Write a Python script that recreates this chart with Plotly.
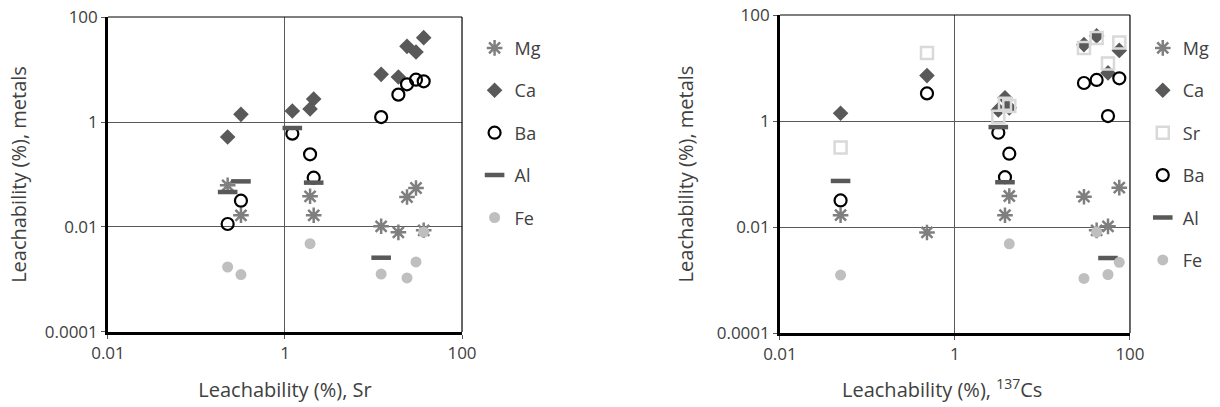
import plotly.graph_objects as go

# Sample data (leachability, %)
sr = [0.225, 0.318, 1.21, 1.92, 2.11, 12.2, 19.1, 23.9, 30.2, 36.9]
cs = [None, 0.0493, 3.13, 4.18, 3.73, 56.1, 0.479, 29.8, 75.5, 41.6]
mg = [0.0622, 0.0167, None, 0.0384, 0.0167, 0.0103, 0.0079, 0.0373, 0.0553, 0.00865]
ca = [0.518, 1.40, 1.62, 1.77, 2.74, 8.09, 7.2, 27.6, 21.5, 40.4]
ba = [0.0114, 0.0317, 0.60, 0.242, 0.087, 1.24, 3.32, 5.22, 6.4, 5.95]
al = [0.0464, 0.074, 0.768, None, 0.070, 0.0026, None, None, None, None]
fe = [0.00173, 0.00124, None, 0.00482, None, 0.00127, None, 0.00107, 0.00216, 0.00803]

x_ticks = [0.01, 1, 100]
y_ticks = [0.0001, 0.01, 1, 100]
x_tick_text = ["0.01", "1", "100"]
y_tick_text = ["0.0001", "0.01", "1", "100"]

FONT = "Open Sans"
TXT = "#404040"
C_MG = "#7f7f7f"
C_CA = "#595959"
C_BA = "#000000"
C_AL = "#595959"
C_FE = "#bfbfbf"
C_SR = "#d9d9d9"

st = {
    "Mg": dict(symbol="asterisk-open", size=13, color=C_MG, line=dict(color=C_MG, width=2.5)),
    "Ca": dict(symbol="diamond", size=12, color=C_CA, line=dict(width=0)),
    "Sr": dict(symbol="square-open", size=12, color=C_SR, line=dict(color=C_SR, width=2.5)),
    "Ba": dict(symbol="circle-open", size=12, color=C_BA, line=dict(color=C_BA, width=2.2)),
    "Al": dict(symbol="line-ew-open", size=14, color=C_AL, line=dict(color=C_AL, width=4.5)),
    "Fe": dict(symbol="circle", size=11, color=C_FE, line=dict(width=0)),
}

fig = go.Figure()

def pairs(xs, ys):
    px, py = [], []
    for a, b in zip(xs, ys):
        if a is not None and b is not None:
            px.append(a); py.append(b)
    return px, py

left_series = [("Mg", mg), ("Ca", ca), ("Ba", ba), ("Al", al), ("Fe", fe)]
for name, vals in left_series:
    px, py = pairs(sr, vals)
    fig.add_trace(go.Scatter(x=px, y=py, mode="markers", name=name, marker=st[name],
                             xaxis="x", yaxis="y", legend="legend",
                             legendgroup="L" + name))

right_series = [("Mg", mg), ("Ca", ca), ("Sr", sr), ("Ba", ba), ("Al", al), ("Fe", fe)]
for name, vals in right_series:
    px, py = pairs(cs, vals)
    fig.add_trace(go.Scatter(x=px, y=py, mode="markers", name=name, marker=st[name],
                             xaxis="x2", yaxis="y2", legend="legend2",
                             legendgroup="R" + name))

axis_common = dict(type="log", showgrid=True, gridcolor="#595959", gridwidth=1,
                   showline=True, linecolor="#000000", linewidth=2.5,
                   ticks="outside", ticklen=4, tickcolor="#595959",
                   tickfont=dict(family=FONT, size=17, color=TXT),
                   zeroline=False, mirror=False, automargin=False)

title_font = dict(family=FONT, size=20, color=TXT)

fig.update_layout(
    width=1220, height=407,
    margin=dict(l=0, r=0, t=0, b=0),
    paper_bgcolor="white", plot_bgcolor="white",
    font=dict(family=FONT, color=TXT),
    xaxis=dict(axis_common, domain=[0.0885, 0.3787], range=[-2, 2], anchor="y",
               tickvals=x_ticks, ticktext=x_tick_text,
               title=dict(text="Leachability (%), Sr", font=title_font, standoff=20)),
    yaxis=dict(axis_common, domain=[0.1843, 0.9582], range=[-4, 2], anchor="x",
               tickvals=y_ticks, ticktext=y_tick_text,
               title=dict(text="Leachability (%), metals", font=title_font, standoff=13)),
    xaxis2=dict(axis_common, domain=[0.6393, 0.9262], range=[-2, 2], anchor="y2",
                tickvals=x_ticks, ticktext=x_tick_text),
    yaxis2=dict(axis_common, domain=[0.1818, 0.9631], range=[-4, 2], anchor="x2",
                tickvals=y_ticks, ticktext=y_tick_text,
                title=dict(text="Leachability (%), metals", font=title_font, standoff=18)),
    legend=dict(x=0.389, y=0.927, xanchor="left", yanchor="top", traceorder="grouped",
                tracegroupgap=16, font=dict(family=FONT, size=18, color=TXT),
                bgcolor="rgba(0,0,0,0)", itemwidth=30),
    legend2=dict(x=0.9367, y=0.927, xanchor="left", yanchor="top", traceorder="grouped",
                 tracegroupgap=16, font=dict(family=FONT, size=18, color=TXT),
                 bgcolor="rgba(0,0,0,0)", itemwidth=30),
    showlegend=True,
    annotations=[dict(text="Leachability (%), <sup>137</sup>Cs", xref="paper", yref="paper",
                      x=942 / 1220, y=1 - 388 / 407, xanchor="center", yanchor="middle",
                      showarrow=False, font=title_font)],
)

# thin top/right frame lines
for xr, yr in (("x domain", "y domain"), ("x2 domain", "y2 domain")):
    fig.add_shape(type="line", xref=xr, yref=yr, x0=0, x1=1, y0=1, y1=1,
                  line=dict(color="#000000", width=1.2))
    fig.add_shape(type="line", xref=xr, yref=yr, x0=1, x1=1, y0=0, y1=1,
                  line=dict(color="#000000", width=1.2))

fig.write_html("out.html", config={"displayModeBar": False},
               post_script="document.body.style.margin='0';document.body.style.overflow='hidden';")
